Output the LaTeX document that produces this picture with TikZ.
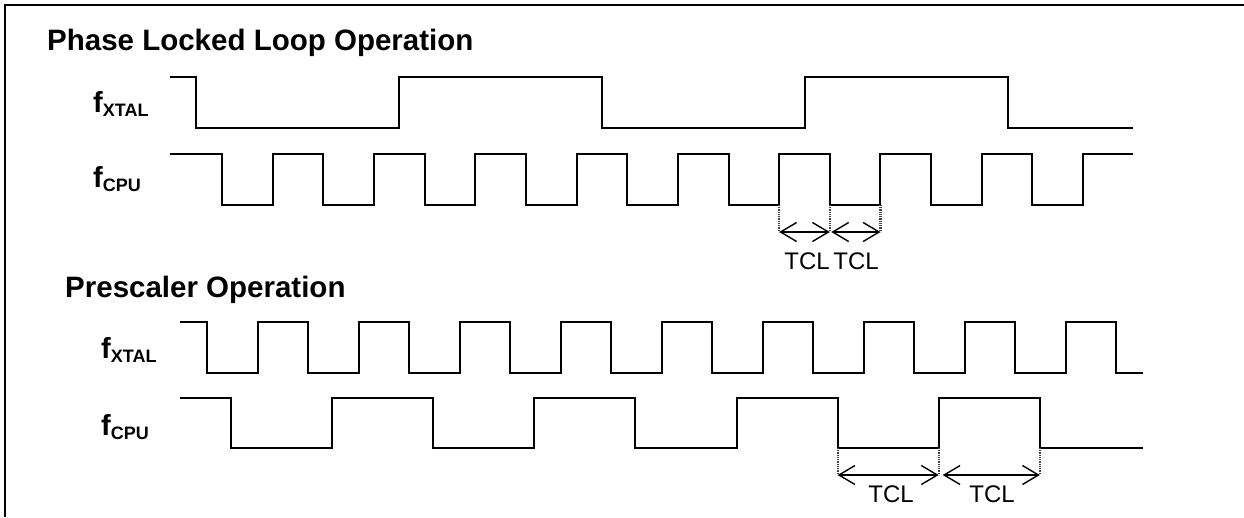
\documentclass[tikz,border=0pt]{standalone}
\usepackage{fontspec}
\setmainfont{Liberation Sans}
\usetikzlibrary{arrows.meta}
\begin{document}
\begin{tikzpicture}[x=1pt,y=-1pt,
  wave/.style={line width=2pt, line join=miter},
  guide/.style={gray!50!black, line width=2.2pt, dash pattern=on 1pt off 0.8pt},
  dimarrow/.style={line width=1.4pt, {Straight Barb[length=16pt,width=19pt]}-{Straight Barb[length=16pt,width=19pt]}},
  titlelbl/.style={font=\fontsize{29.5}{29.5}\bfseries\selectfont, anchor=base west, inner sep=0},
  siglbl/.style={font=\fontsize{29}{29}\bfseries\selectfont, anchor=base west, inner sep=0},
  tcllbl/.style={font=\fontsize{24}{24}\selectfont, anchor=base, inner sep=0}]
\newcommand{\sublbl}[1]{\raisebox{-4pt}{\fontsize{18}{18}\bfseries\selectfont #1}}
\useasboundingbox (0,0) rectangle (1244,517);
% frame
\draw[line width=1.5pt] (5,517) -- (5,5) -- (1244,5);

% ---------- Phase Locked Loop ----------
\node[titlelbl] (t1) at (47,50) {Phase Locked Loop Operation};
\node[siglbl] (l1) at (93,112) {f\sublbl{XTAL}};
\node[siglbl] (l2) at (93,187) {f\sublbl{CPU}};

\draw[wave] (170,77) -- (196,77) -- (196,128) -- (399,128) -- (399,77) -- (602,77)
  -- (602,128) -- (805,128) -- (805,77) -- (1008,77) -- (1008,128) -- (1133,128);

\draw[wave] (170,154) foreach \k in {0,...,8} {
   -- ({222+101.3*\k},154) -- ({222+101.3*\k},205)
   -- ({272.65+101.3*\k},205) -- ({272.65+101.3*\k},154)} -- (1133,154);

\coordinate (a1) at (779.2,205);
\coordinate (a2) at (829.8,205);
\coordinate (a3) at (880.5,205);
\coordinate (a1b) at (779.2,232);
\coordinate (a2b) at (829.8,232);
\coordinate (a3b) at (880.5,232);
\draw[guide] (a1) -- (a1b);
\draw[guide] (a2) -- (a2b);
\draw[guide] (a3) -- (a3b);
\draw[dimarrow] (a1b) -- (a2b);
\draw[dimarrow] ([xshift=1.5pt]a2b) -- (a3b);
\node[tcllbl] (c1) at (807,269) {TCL};
\node[tcllbl] (c2) at (856,269) {TCL};

% ---------- Prescaler ----------
\node[titlelbl] (t2) at (65,297) {Prescaler Operation};
\node[siglbl] (l3) at (101,358) {f\sublbl{XTAL}};
\node[siglbl] (l4) at (101,435) {f\sublbl{CPU}};

\draw[wave] (180,322) foreach \k in {0,...,8} {
   -- ({207+101*\k},322) -- ({207+101*\k},373)
   -- ({257.5+101*\k},373) -- ({257.5+101*\k},322)} -- (1116,322) -- (1116,373) -- (1143,373);

\draw[wave] (180,398) foreach \k in {0,...,3} {
   -- ({231+202.2*\k},398) -- ({231+202.2*\k},448)
   -- ({332.1+202.2*\k},448) -- ({332.1+202.2*\k},398)} -- (1039.8,398) -- (1039.8,448) -- (1143,448);

\coordinate (b1) at (837.6,448);
\coordinate (b2) at (938.7,448);
\coordinate (b3) at (1039.8,448);
\coordinate (b1b) at (837.6,475);
\coordinate (b2b) at (938.7,475);
\coordinate (b3b) at (1039.8,475);
\draw[guide] (b1) -- (b1b);
\draw[guide] (b2) -- (b2b);
\draw[guide] (b3) -- (b3b);
\draw[dimarrow] (b1b) -- (b2b);
\draw[dimarrow] ([xshift=4pt]b2b) -- (b3b);
\node[tcllbl] (c3) at (891,502) {TCL};
\node[tcllbl] (c4) at (992,502) {TCL};
\end{tikzpicture}
\end{document}
